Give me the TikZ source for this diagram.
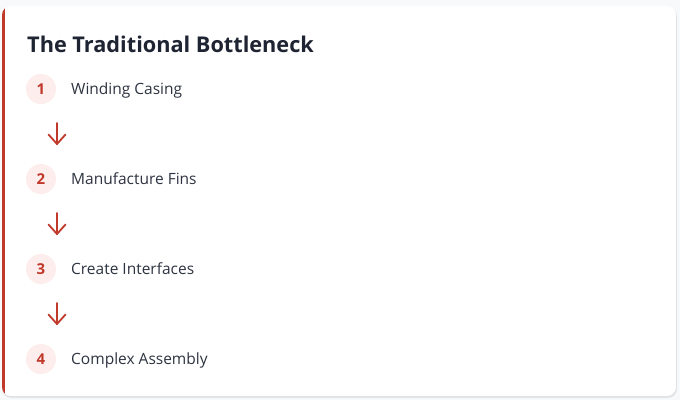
\documentclass[tikz,border=0pt]{standalone}
\usepackage{fontspec}
\setmainfont{Open Sans}
\usetikzlibrary{calc}
\definecolor{bg}{HTML}{F8F9FB}
\definecolor{accent}{HTML}{C0392B}
\definecolor{circfill}{HTML}{FDEDEC}
\definecolor{titlec}{HTML}{1F2433}
\definecolor{labelc}{HTML}{2D3340}
\begin{document}
\begin{tikzpicture}[x=1pt,y=-1pt,
  numcirc/.style={circle,fill=circfill,minimum size=30pt,inner sep=0pt},
  numtext/.style={anchor=base,inner sep=0pt,text=accent,font=\fontsize{15}{17}\selectfont\bfseries},
  steplabel/.style={anchor=base west,inner sep=0pt,text=labelc,font=\fontsize{15.5}{18}\selectfont},
  flowarrow/.style={draw=accent,line width=1.8pt,line cap=round,line join=round}
]
\useasboundingbox (0,0) rectangle (680,400);
\fill[bg] (0,0) rectangle (680,400);
% shadow
\fill[black,opacity=0.05,rounded corners=9pt] (2,8) rectangle (677,398);
\fill[black,opacity=0.04,rounded corners=9pt] (2,7) rectangle (677,397.5);
% card
\begin{scope}
\clip[rounded corners=9pt] (2,6) rectangle (676,396);
\fill[white] (2,6) rectangle (676,396);
\fill[accent] (2,6) rectangle (5,396);
\end{scope}
% title
\node[anchor=base west,inner sep=0pt,text=titlec,font=\fontsize{21.7}{26}\selectfont\bfseries] (title) at (27,52.5) {The Traditional Bottleneck};
% steps
\foreach \i/\t [evaluate=\i as \y using {89+90*(\i-1)}] in {1/Winding Casing,2/Manufacture Fins,3/Create Interfaces,4/Complex Assembly}{
  \node[numcirc] (n\i) at (41,\y) {};
  \node[numtext] (k\i) at (41,\y+5.5) {\i};
  \node[steplabel] (l\i) at (71,\y+5.5) {\t};
}
% arrows
\foreach \i/\y in {1/123,2/213,3/303}{
  \coordinate (a\i s) at (57,\y);
  \coordinate (a\i e) at (57,\y+21);
  \draw[flowarrow] (a\i s) -- (a\i e);
  \draw[flowarrow] ($(a\i e)+(-8.5,-9.5)$) -- (a\i e) -- ($(a\i e)+(8.5,-9.5)$);
}
\end{tikzpicture}
\end{document}
